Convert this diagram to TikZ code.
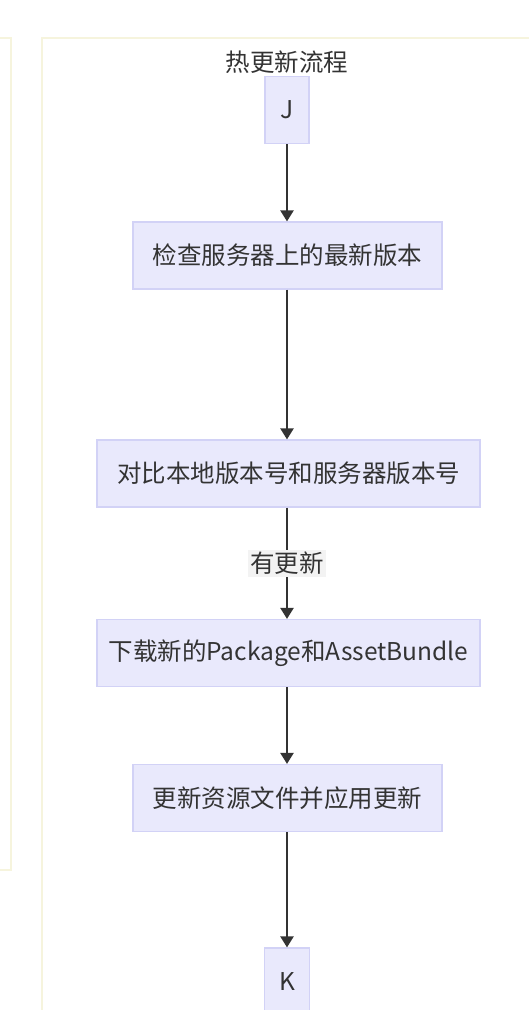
\documentclass[tikz,border=0pt]{standalone}
\usepackage{fontspec}
\setmainfont{Noto Sans CJK SC}
\usetikzlibrary{arrows.meta}
\definecolor{boxfill}{HTML}{E9E9FC}
\definecolor{boxdraw}{HTML}{D2D2F6}
\definecolor{clusterdraw}{HTML}{F6F4DD}
\definecolor{txt}{HTML}{333333}
\definecolor{lblfill}{HTML}{F3F3F3}
\tikzset{
  stepbox/.style={draw=boxdraw, fill=boxfill, line width=1.2pt, text=txt, inner sep=0pt, font=\fontsize{24.5}{29}\selectfont},
  flow/.style={draw=txt, line width=2.3pt, -{Triangle[length=11pt,width=13pt]}},
  cluster/.style={draw=clusterdraw, line width=1.5pt, fill=white},
  lbl/.style={fill=lblfill, text=txt, inner sep=2pt, font=\fontsize{24.5}{29}\selectfont}
}
\begin{document}
\begin{tikzpicture}[x=1pt,y=-1pt]
\useasboundingbox (0,0) rectangle (529,1010);
\clip (0,0) rectangle (529,1010);
\fill[white] (0,0) rectangle (529,1010);
\draw[cluster] (-20,38) rectangle (11,870);
\draw[cluster] (42,38) rectangle (560,1040);
\node[text=txt, font=\fontsize{24.5}{29}\selectfont] (title) at (287,62) {热更新流程};
\node[stepbox, minimum width=44pt, minimum height=67pt] (J) at (287,110) {J};
\node[stepbox, minimum width=309pt, minimum height=67pt] (check) at (287.5,255.5) {检查服务器上的最新版本};
\node[stepbox, minimum width=383pt, minimum height=67pt] (cmp) at (288.5,473.5) {对比本地版本号和服务器版本号};
\node[stepbox, minimum width=383pt, minimum height=67pt] (dl) at (288.5,653) {下载新的Package和AssetBundle};
\node[stepbox, minimum width=309pt, minimum height=67pt] (upd) at (287.5,798) {更新资源文件并应用更新};
\node[stepbox, minimum width=45pt, minimum height=67pt] (K) at (287,981.5) {K};
\draw[flow] (J.south) -- (J.south |- check.north);
\draw[flow] (J.south |- check.south) -- (J.south |- cmp.north);
\draw[flow] (J.south |- cmp.south) -- node[lbl, midway] (lab) {有更新} (J.south |- dl.north);
\draw[flow] (J.south |- dl.south) -- (J.south |- upd.north);
\draw[flow] (J.south |- upd.south) -- (K.north);
\end{tikzpicture}
\end{document}
